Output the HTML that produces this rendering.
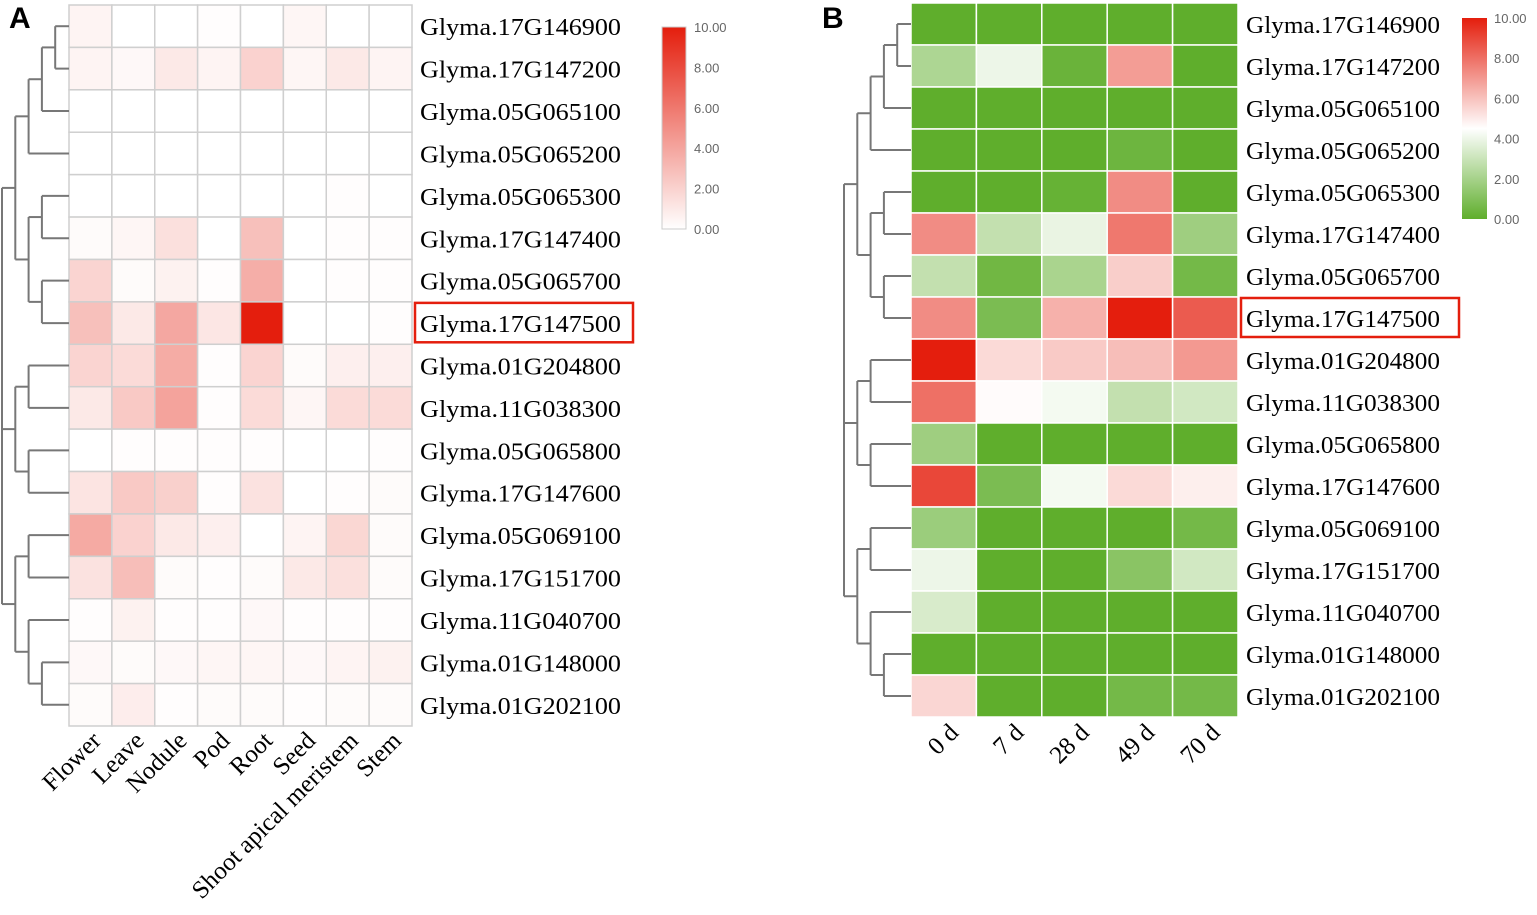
<!DOCTYPE html>
<html><head><meta charset="utf-8"><style>
html,body{margin:0;padding:0;background:#fff;}
svg{display:block;}
</style></head><body>
<svg id="fig" width="1537" height="915" xmlns="http://www.w3.org/2000/svg">
<defs>
<linearGradient id="gA" x1="0" y1="0" x2="0" y2="1"><stop offset="0" stop-color="#e41e0d"/><stop offset="1" stop-color="#ffffff"/></linearGradient>
<linearGradient id="gB" x1="0" y1="0" x2="0" y2="1"><stop offset="0" stop-color="#e41e0d"/><stop offset="0.55" stop-color="#ffffff"/><stop offset="1" stop-color="#5fae2c"/></linearGradient>
</defs>
<text x="9" y="28" font-family="Liberation Sans, sans-serif" font-weight="bold" font-size="30">A</text>
<text x="822" y="28" font-family="Liberation Sans, sans-serif" font-weight="bold" font-size="30">B</text>
<g id="pa"></g>
<g id="pb"></g>
<rect x="662" y="27" width="24" height="202" fill="url(#gA)" stroke="#ccc"/>
<rect x="1462" y="18" width="25" height="201" fill="url(#gB)"/>
<g id="legA"></g>
<g id="legB"></g>
</svg>
<script>
const genesA = ["Glyma.17G146900","Glyma.17G147200","Glyma.05G065100","Glyma.05G065200","Glyma.05G065300","Glyma.17G147400","Glyma.05G065700","Glyma.17G147500","Glyma.01G204800","Glyma.11G038300","Glyma.05G065800","Glyma.17G147600","Glyma.05G069100","Glyma.17G151700","Glyma.11G040700","Glyma.01G148000","Glyma.01G202100"];
const genesB = genesA.slice();
const tissues = ["Flower","Leave","Nodule","Pod","Root","Seed","Shoot apical meristem","Stem"];
const times = ["0 d","7 d","28 d","49 d","70 d"];
const legendTicks = ["10.00","8.00","6.00","4.00","2.00","0.00"];
const valuesA = [
[0.5,0,0,0.1,0,0.4,0,0],
[0.5,0.3,1,0.5,2,0.4,1,0.5],
[0,0,0,0,0,0,0,0],
[0,0,0,0,0,0,0,0],
[0,0,0,0,0,0,0.1,0],
[0.2,0.4,1.4,0,2.8,0,0.1,0.1],
[1.9,0.2,0.6,0.1,3.6,0,0.1,0.1],
[2.8,1,3.9,1.1,10,0,0,0.1],
[1.9,1.6,3.7,0.1,1.9,0.2,0.7,0.7],
[1,2.4,4.1,0.1,1.6,0.4,1.6,1.6],
[0,0.1,0.1,0.1,0.1,0,0,0.1],
[1.2,2.4,2.1,0.1,1.3,0,0.1,0.2],
[3.8,2,1,0.7,0,0.5,1.8,0.2],
[1.3,2.9,0.2,0.1,0.2,1,1.4,0.2],
[0.1,0.6,0.1,0.1,0.3,0.1,0.1,0.1],
[0.3,0.2,0.3,0.4,0.4,0.3,0.5,0.6],
[0.2,0.8,0.1,0.2,0.2,0.1,0.2,0.2]];
const valuesB = [
[0,0,0,0,0],
[2.2,4,0.3,6.9,0],
[0,0,0,0,0],
[0,0,0,0.4,0],
[0,0,0.2,7.3,0],
[7.3,2.8,3.9,7.8,1.8],
[2.8,0.5,2.1,5.7,0.6],
[7.3,0.8,6.4,10,8.5],
[10,5.4,5.8,6.1,7],
[8,4.6,4.2,2.8,3.2],
[1.8,0,0,0,0],
[9,0.8,4.2,5.4,4.9],
[1.7,0,0,0,0.6],
[4,0,0,1.2,3.2],
[3.4,0,0,0,0],
[0,0,0,0,0],
[5.5,0,0,0.6,0.6]];
const treeA = {d:1,c:[{d:2,c:[{d:3,c:[{d:4,c:[{d:5,c:[0,1]},2]},3]},{d:3,c:[{d:4,c:[4,5]},{d:4,c:[6,7]}]}]},{d:2,c:[{d:3,c:[8,9]},{d:3,c:[10,11]}]},{d:2,c:[{d:3,c:[12,13]},{d:3,c:[14,{d:4,c:[15,16]}]}]}]};
const treeB = {d:1,c:[{d:2,c:[{d:3,c:[{d:4,c:[{d:5,c:[0,1]},2]},3]},{d:3,c:[{d:4,c:[4,5]},{d:4,c:[6,7]}]}]},{d:2,c:[{d:3,c:[8,9]},{d:3,c:[10,11]}]},{d:2,c:[{d:3,c:[12,13]},{d:3,c:[14,{d:4,c:[15,16]}]}]}]};
const NS="http://www.w3.org/2000/svg";
function mk(tag,attrs,parent){const e=document.createElementNS(NS,tag);for(const k in attrs)e.setAttribute(k,attrs[k]);parent.appendChild(e);return e;}
function mix(a,b,t){return a.map((v,i)=>Math.round(v+(b[i]-v)*t));}
const RED=[228,30,13],WHITE=[255,255,255],GREEN=[95,174,44];
function colA(v){const c=mix(WHITE,RED,Math.max(0,Math.min(1,v/10)));return `rgb(${c})`;}
function colB(v){const mid=4.5;let c;if(v<=mid)c=mix(GREEN,WHITE,v/mid);else c=mix(WHITE,RED,(v-mid)/(10-mid));return `rgb(${c})`;}
function drawPanel(g,cfg){
  const nR=cfg.genes.length,nC=cfg.cols.length;
  const cw=(cfg.x1-cfg.x0)/nC,rh=(cfg.y1-cfg.y0)/nR;
  const xS=j=>cfg.x0+j*cw, yS=i=>cfg.y0+i*rh;
  cfg.values.forEach((row,i)=>row.forEach((v,j)=>{
    const r=mk('rect',{x:xS(j),y:yS(i),width:cw,height:rh,fill:cfg.col(v),stroke:cfg.stroke,'stroke-width':cfg.sw},g);
    
    
  }));
  cfg.genes.forEach((gname,i)=>{
    const t=mk('text',{x:cfg.x1+8,y:yS(i)+rh/2+9,'font-family':'Liberation Serif, serif','font-size':24,textLength:cfg.tl,lengthAdjust:'spacingAndGlyphs'},g);
    t.textContent=gname;
    
    
  });
  cfg.cols.forEach((c,j)=>{
    const cx=xS(j)+cw/2+cfg.lx,cy=cfg.ly;
    const t=mk('text',{x:cx,y:cy,'text-anchor':'end','font-family':'Liberation Serif, serif','font-size':25,transform:`rotate(-45 ${cx} ${cy})`},g);
    t.textContent=c;
    
    
  });
  const lvX=d=>cfg.dx0+(d-1)*cfg.dstep;
  function walk(n){
    if(typeof n==='number') return {x:cfg.x0,y:yS(n)+rh/2};
    const ch=n.c.map(walk),x=lvX(n.d);
    const ys=ch.map(p=>p.y);
    ch.forEach(p=>{const l=mk('line',{x1:x,y1:p.y,x2:p.x,y2:p.y,stroke:'#777','stroke-width':2},g);});
    const l=mk('line',{x1:x,y1:Math.min(...ys),x2:x,y2:Math.max(...ys),stroke:'#777','stroke-width':2},g);
    
    
    return {x:x,y:(Math.min(...ys)+Math.max(...ys))/2};
  }
  walk(cfg.tree);
  const hb=cfg.hl;
  const box=mk('rect',{x:cfg.x1+3,y:yS(hb)+1,width:cfg.boxW,height:rh-3,fill:'none',stroke:'#e41e0d','stroke-width':2.5},g);
  
  
}
drawPanel(document.getElementById('pa'),{genes:genesA,cols:tissues,values:valuesA,col:colA,x0:69,x1:412,y0:5,y1:726,stroke:'#cfcfcf',sw:1.5,lx:12,ly:742,tree:treeA,dx0:2,dstep:13.3,hl:7,boxW:218,tl:201});
drawPanel(document.getElementById('pb'),{genes:genesB,cols:times,values:valuesB,col:colB,x0:911,x1:1238,y0:3,y1:717,stroke:'#ffffff',sw:1.5,lx:16,ly:734,tree:treeB,dx0:844,dstep:13.3,hl:7,boxW:218,tl:194});
function legend(id,x,y0,y1){
  const g=document.getElementById(id);
  legendTicks.forEach((t,i)=>{
    const y=y0+(y1-y0)*i/(legendTicks.length-1);
    const e=mk('text',{x:x,y:y+5,'font-family':'Liberation Sans, sans-serif','font-size':13,fill:'#666'},g);
    e.textContent=t;
    
    
  });
}
legend('legA',694,27,229);
legend('legB',1494,18,219);
</script>
</body></html>
